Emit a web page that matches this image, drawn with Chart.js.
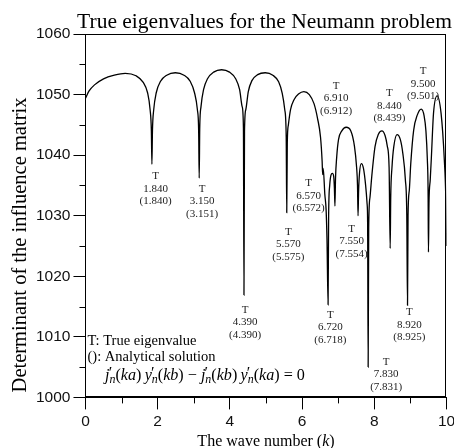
<!DOCTYPE html>
<html>
<head>
<meta charset="utf-8">
<script src="https://cdn.jsdelivr.net/npm/chart.js@4.4.1/dist/chart.umd.min.js"></script>
<style>
  html, body { margin: 0; padding: 0; background: #fff; }
  #wrap { width: 454px; height: 448px; }
</style>
</head>
<body>
<div id="wrap"><canvas id="eigChart" width="454" height="448"></canvas></div>
<script>
/* Determinant curve (k, det) */
const waveNumber = [
  0, 0.1, 0.25, 0.5, 0.8, 1.1, 1.4, 1.6, 1.72, 1.79, 1.825, 1.84,
  1.855, 1.89, 1.96, 2.08, 2.25, 2.49, 2.73, 2.9, 3.02, 3.1, 3.135, 3.15,
  3.165, 3.2, 3.27, 3.38, 3.55, 3.77, 3.99, 4.16, 4.27, 4.34, 4.375, 4.39,
  4.405, 4.44, 4.51, 4.61, 4.77, 4.98, 5.19, 5.35, 5.45, 5.52, 5.56, 5.575,
  5.59, 5.62, 5.68, 5.78, 5.9, 6.05, 6.2, 6.33, 6.43, 6.51, 6.555, 6.57,
  6.585, 6.63, 6.665, 6.69, 6.72,
  6.735, 6.765, 6.8, 6.84, 6.875, 6.895, 6.91,
  6.925, 6.96, 7.01, 7.1, 7.22, 7.35, 7.45, 7.51, 7.535, 7.55,
  7.565, 7.59, 7.64, 7.7, 7.76, 7.8, 7.815, 7.83,
  7.845, 7.88, 7.93, 8.02, 8.11, 8.21, 8.3, 8.36, 8.41, 8.44,
  8.455, 8.49, 8.54, 8.63, 8.72, 8.79, 8.86, 8.9, 8.92,
  8.935, 8.97, 9.01, 9.09, 9.19, 9.3, 9.38, 9.43, 9.47, 9.49, 9.5,
  9.515, 9.55, 9.58, 9.64, 9.74, 9.85, 9.94, 9.98, 10.0
];
const determinant = [
  1049.4, 1050.6, 1051.6, 1052.6, 1053.2, 1053.5, 1053.1, 1052.0, 1050.3, 1047.5, 1044.0, 1038.5,
  1044.0, 1047.5, 1050.3, 1052.2, 1053.2, 1053.6, 1053.2, 1052.2, 1050.3, 1047.5, 1044.0, 1036.2,
  1044.5, 1048.0, 1050.8, 1052.6, 1053.7, 1054.1, 1053.7, 1052.6, 1050.8, 1048.0, 1044.5, 1016.9,
  1044.0, 1047.5, 1050.5, 1052.3, 1053.3, 1053.6, 1053.2, 1052.1, 1050.2, 1047.5, 1043.0, 1030.5,
  1042.0, 1045.0, 1047.5, 1049.2, 1050.1, 1050.5, 1050.0, 1048.5, 1046.0, 1043.0, 1039.0, 1036.8,
  1037.8, 1033.5, 1031.0, 1026.0, 1015.3,
  1030.0, 1035.0, 1036.7, 1037.0, 1036.5, 1034.5, 1031.6,
  1036.0, 1039.8, 1042.6, 1044.0, 1044.6, 1044.0, 1041.5, 1038.0, 1035.0, 1030.0,
  1034.0, 1037.0, 1038.6, 1037.8, 1035.0, 1032.0, 1029.0, 1005.0,
  1028.0, 1033.0, 1036.5, 1041.4, 1043.4, 1044.0, 1043.2, 1041.5, 1038.0, 1024.6,
  1033.0, 1038.0, 1041.4, 1043.4, 1042.6, 1040.3, 1036.0, 1030.0, 1015.2,
  1030.0, 1034.2, 1038.6, 1044.1, 1046.6, 1047.6, 1046.5, 1044.0, 1039.2, 1034.0, 1024.0,
  1032.0, 1036.0, 1039.5, 1046.9, 1049.8, 1046.9, 1039.2, 1033.0, 1025.0
];

/* eigenvalue annotations */
const trueEigen     = ['1.840', '3.150', '4.390', '5.570', '6.570', '6.720', '6.910', '7.550', '7.830', '8.440', '8.920', '9.500'];
const analyticEigen = ['(1.840)', '(3.151)', '(4.390)', '(5.575)', '(6.572)', '(6.718)', '(6.912)', '(7.554)', '(7.831)', '(8.439)', '(8.925)', '(9.501)'];
// where each label block sits, in data units (k, det)
const labelK   = [1.94, 3.23, 4.42, 5.62, 6.18, 6.78, 6.94, 7.37, 8.33, 8.42, 8.97, 9.35];
const labelDet = [1036.5, 1034.4, 1014.4, 1027.3, 1035.3, 1013.6, 1051.4, 1027.8, 1005.8, 1050.2, 1014.0, 1053.8];

const xTicks = [0, 2, 4, 6, 8, 10];
const xMinor = [1, 3, 5, 7, 9];
const yTicks = [1000, 1010, 1020, 1030, 1040, 1050, 1060];
const yMinor = [1005, 1015, 1025, 1035, 1045, 1055];

const SERIF = '"Liberation Serif", "Times New Roman", serif';
const SANS = '"Liberation Sans", Arial, sans-serif';

function drawEquation(ctx, x0, base, size, draw) {
  const it = 'italic ' + size + 'px ' + SERIF;
  const up = size + 'px ' + SERIF;
  const sub = 'italic ' + (size * 0.74) + 'px ' + SERIF;
  const tok = [
    ['j', 'i'], ['n', 's'], ['(', 'u'], ['ka', 'i'], [')', 'u'], ['\u2009', 'u'],
    ['y', 'i'], ['n', 's'], ['(', 'u'], ['kb', 'i'], [')', 'u'],
    [' \u2212 ', 'u'],
    ['j', 'i'], ['n', 's'], ['(', 'u'], ['kb', 'i'], [')', 'u'], ['\u2009', 'u'],
    ['y', 'i'], ['n', 's'], ['(', 'u'], ['ka', 'i'], [')', 'u'],
    [' = 0', 'u']
  ];
  let x = x0;
  ctx.textAlign = 'left';
  ctx.textBaseline = 'alphabetic';
  tok.forEach(([t, k]) => {
    if (k === 's') {
      ctx.font = up;
      const pw = ctx.measureText('\u2032').width;
      if (draw) ctx.fillText('\u2032', x - size * 0.05, base - size * 0.12);
      ctx.font = sub;
      const nw = ctx.measureText(t).width;
      if (draw) ctx.fillText(t, x, base + size * 0.2);
      x += Math.max(nw, pw);
    } else {
      ctx.font = k === 'i' ? it : up;
      if (draw) ctx.fillText(t, x, base);
      x += ctx.measureText(t).width;
    }
  });
  return x - x0;
}

const extras = {
  id: 'extras',
  afterDraw(chart) {
    const { ctx, chartArea: a, scales: { x, y } } = chart;
    ctx.save();
    ctx.strokeStyle = '#000';
    ctx.lineWidth = 1;
    ctx.strokeRect(Math.round(a.left) + 0.5, Math.round(a.top) + 0.5,
      Math.round(a.right - a.left) - 1, Math.round(a.bottom - a.top) - 1);

    // minor ticks
    ctx.beginPath();
    xMinor.forEach(v => {
      const px = Math.round(x.getPixelForValue(v)) + 0.5;
      ctx.moveTo(px, a.bottom); ctx.lineTo(px, a.bottom + 6);
    });
    yMinor.forEach(v => {
      const py = Math.round(y.getPixelForValue(v)) + 0.5;
      ctx.moveTo(a.left - 6, py); ctx.lineTo(a.left, py);
    });
    ctx.stroke();

    // eigenvalue labels
    ctx.fillStyle = '#222';
    ctx.font = '11px ' + SERIF;
    ctx.textAlign = 'center';
    ctx.textBaseline = 'middle';
    trueEigen.forEach((t, i) => {
      const cx = x.getPixelForValue(labelK[i]);
      const cy = y.getPixelForValue(labelDet[i]);
      ctx.fillText('T', cx, cy);
      ctx.fillText(t, cx, cy + 12.3);
      ctx.fillText(analyticEigen[i], cx, cy + 24.6);
    });

    // legend notes
    ctx.fillStyle = '#000';
    ctx.font = '14.5px ' + SERIF;
    ctx.textAlign = 'left';
    ctx.textBaseline = 'alphabetic';
    ctx.fillText('T: True eigenvalue', a.left + 2, 344.5);
    ctx.fillText('(): Analytical solution', a.left + 2, 361);
    const w = drawEquation(ctx, 0, 0, 15, false);
    drawEquation(ctx, 105, 379.5, 15 * 200 / w, true);

    // title
    ctx.font = '21.5px ' + SERIF;
    ctx.textAlign = 'center';
    ctx.fillText('True eigenvalues for the Neumann problem', 264.5, 27.5);

    // x axis title with italic k
    ctx.font = '16px ' + SERIF;
    const p1 = 'The wave number (', p3 = ')';
    const w1 = ctx.measureText(p1).width, w3 = ctx.measureText(p3).width;
    ctx.font = 'italic 16px ' + SERIF;
    const w2 = ctx.measureText('k').width;
    let tx = (a.left + a.right) / 2 - (w1 + w2 + w3) / 2;
    ctx.textAlign = 'left';
    ctx.font = '16px ' + SERIF;
    ctx.fillText(p1, tx, 446);
    ctx.font = 'italic 16px ' + SERIF;
    ctx.fillText('k', tx + w1, 446);
    ctx.font = '16px ' + SERIF;
    ctx.fillText(p3, tx + w1 + w2, 446);

    // y axis title
    ctx.translate(26, 245);
    ctx.rotate(-Math.PI / 2);
    ctx.font = '20.5px ' + SERIF;
    ctx.textAlign = 'center';
    ctx.fillText('Determinant of the influence matrix', 0, 0);
    ctx.restore();
  }
};

new Chart(document.getElementById('eigChart'), {
  type: 'line',
  data: {
    datasets: [{
      data: waveNumber.map((k, i) => ({ x: k, y: determinant[i] })),
      borderColor: '#000', borderWidth: 1.3, pointRadius: 0, fill: false,
      tension: 0.4, cubicInterpolationMode: 'monotone'
    }]
  },
  options: {
    responsive: false, animation: false,
    layout: { autoPadding: false, padding: { left: 33, right: 7.5, top: 34, bottom: 14 } },
    plugins: { legend: { display: false }, tooltip: { enabled: false }, title: { display: false } },
    scales: {
      x: {
        type: 'linear', min: 0, max: 10,
        afterBuildTicks: s => { s.ticks = xTicks.map(v => ({ value: v })); },
        afterFit: s => { s.paddingRight = 0; },   // let "10" hang over the edge like the original
        grid: { drawOnChartArea: false, tickLength: 12, tickColor: '#000' },
        border: { color: '#000', width: 1 },
        ticks: { color: '#111', font: { family: SANS, size: 15.5 }, padding: 3, maxRotation: 0, callback: v => String(v) }
      },
      y: {
        type: 'linear', min: 1000, max: 1060,
        afterBuildTicks: s => { s.ticks = yTicks.map(v => ({ value: v })); },
        grid: { drawOnChartArea: false, tickLength: 12, tickColor: '#000' },
        border: { color: '#000', width: 1 },
        ticks: { color: '#111', font: { family: SANS, size: 15.5 }, padding: 3, callback: v => String(v) }
      }
    }
  },
  plugins: [extras]
});
</script>
</body>
</html>
